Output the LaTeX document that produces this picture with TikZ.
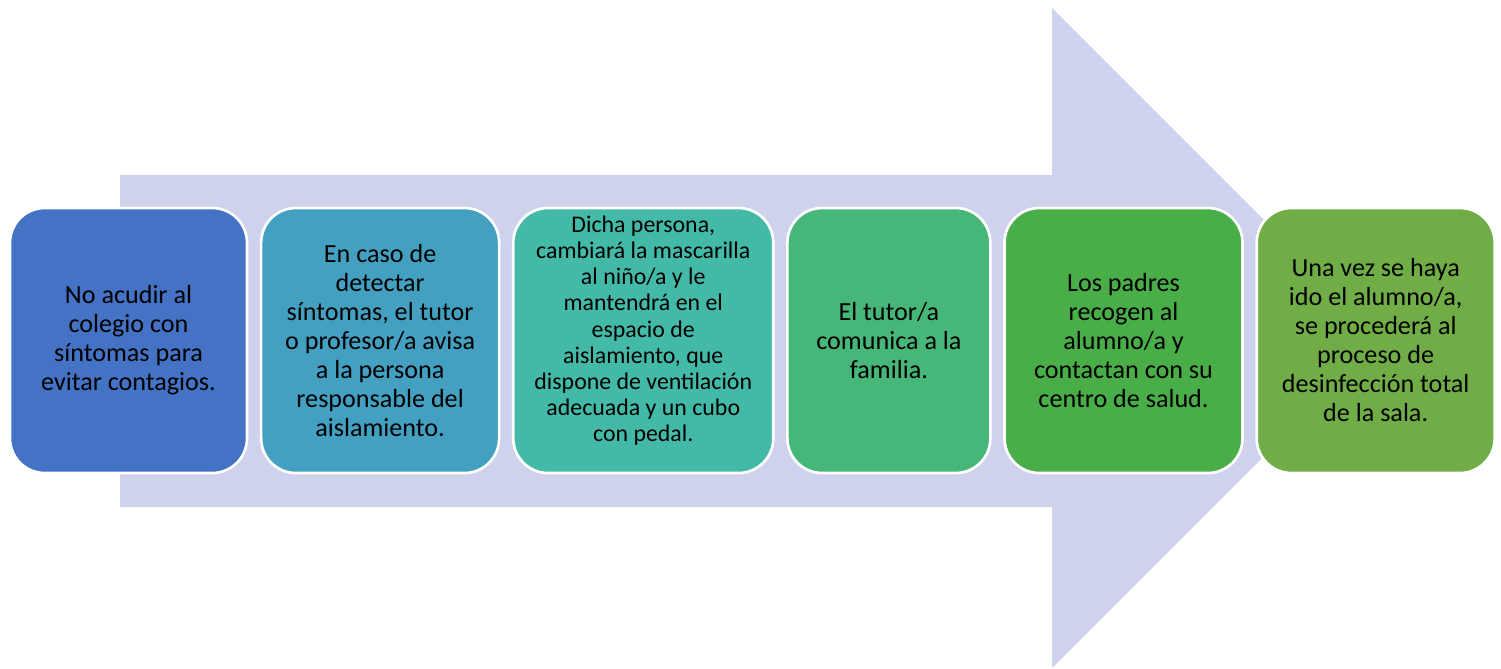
\documentclass[tikz,border=0pt]{standalone}
\usepackage{fontspec}
\setmainfont{Carlito}
\usetikzlibrary{positioning}
\definecolor{flecha}{HTML}{CFD2EC}
\definecolor{paso1}{HTML}{4472C4}
\definecolor{paso2}{HTML}{43A0C1}
\definecolor{paso3}{HTML}{43BAA8}
\definecolor{paso4}{HTML}{47B779}
\definecolor{paso5}{HTML}{4AAE48}
\definecolor{paso6}{HTML}{70AD47}
\tikzset{
  paso/.style={draw=white,line width=2pt,rounded corners=26pt,minimum height=198.75pt,
    align=center,inner sep=0pt,font=\fontsize{19.6}{21.75}\selectfont},
  ancho/.style={minimum width=#1*0.75pt}
}
\begin{document}
\begin{tikzpicture}[x=0.75pt,y=-0.75pt]
        \useasboundingbox (0,0) rectangle (1501,668);
        \fill[flecha] (120,175) -- (1052,175) -- (1052,8) -- (1382,338) -- (1052,668) -- (1052,507) -- (120,507) -- cycle;
        \node[paso,fill=paso1,ancho=237] (s1) at (128.5,340.5) {No acudir al\\colegio con\\síntomas para\\evitar contagios.};
        \node[paso,fill=paso2,ancho=238,right=8.6pt of s1] (s2) {En caso de\\detectar\\síntomas, el tutor\\o profesor/a avisa\\a la persona\\responsable del\\aislamiento.};
        \node[paso,fill=paso3,ancho=260,right=8.6pt of s2,font=\fontsize{17.9}{19.6}\selectfont] (s3) {Dicha persona,\\cambiará la mascarilla\\al niño/a y le\\mantendrá en el\\espacio de\\aislamiento, que\\dispone de ventilación\\adecuada y un cubo\\con pedal.\\[-2pt]};
        \node[paso,fill=paso4,ancho=203,right=8.6pt of s3] (s4) {El tutor/a\\comunica a la\\familia.};
        \node[paso,fill=paso5,ancho=238,right=8.6pt of s4] (s5) {Los padres\\recogen al\\alumno/a y\\contactan con su\\centro de salud.};
        \node[paso,fill=paso6,ancho=238,right=8.6pt of s5] (s6) {Una vez se haya\\ido el alumno/a,\\se procederá al\\proceso de\\desinfección total\\de la sala.};
\end{tikzpicture}
\end{document}
